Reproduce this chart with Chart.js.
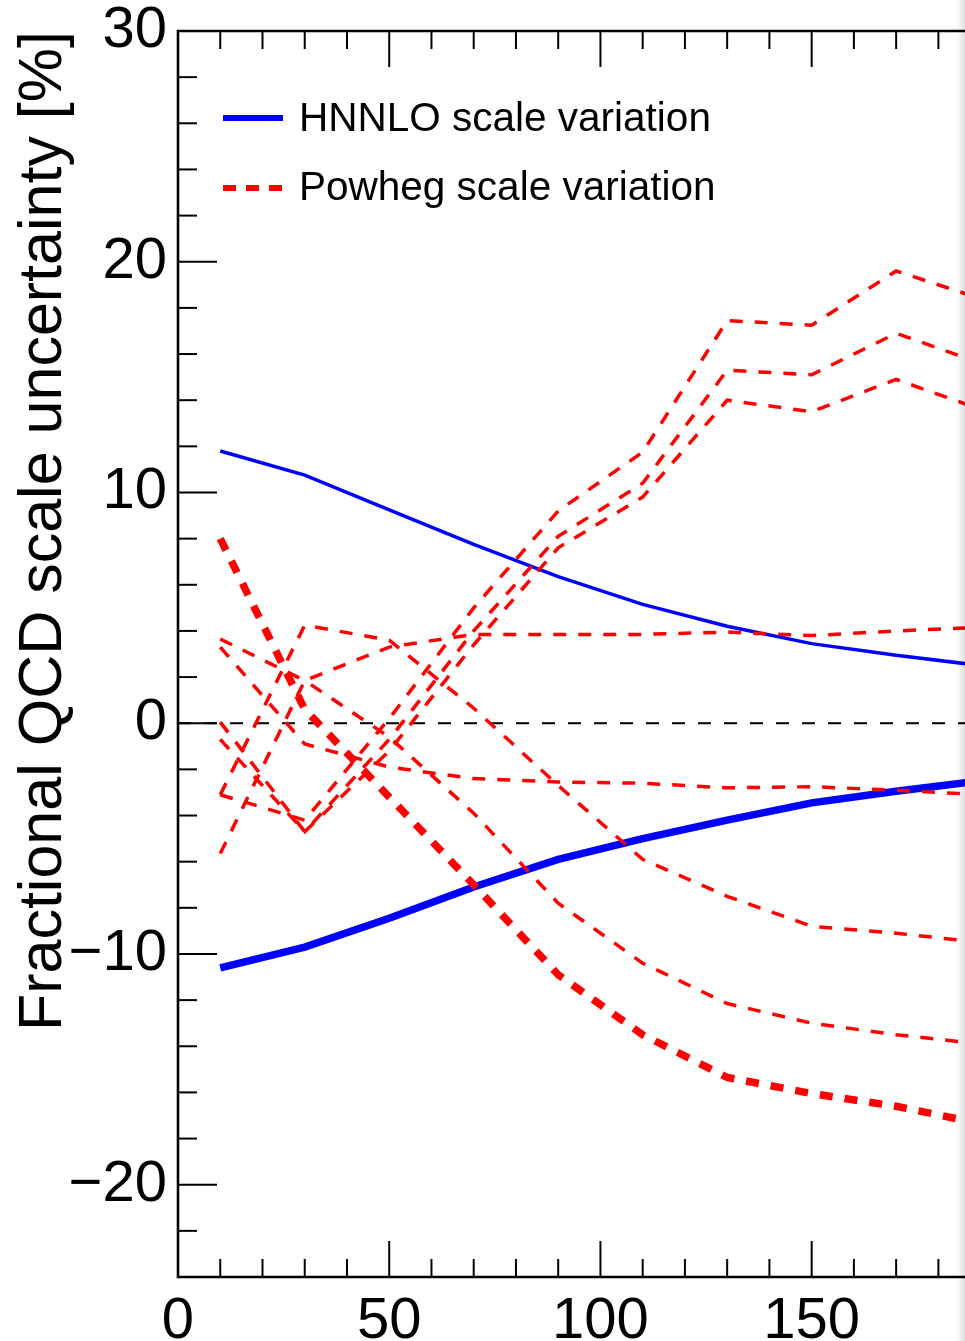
<!DOCTYPE html>
<html>
<head>
<meta charset="utf-8">
<title>Fractional QCD scale uncertainty</title>
<script src="https://cdn.jsdelivr.net/npm/chart.js@4.4.1/dist/chart.umd.min.js"></script>
<style>
    html, body { margin: 0; padding: 0; background: #fff; overflow: hidden; }
    #wrap { position: relative; width: 965px; height: 1341px; }
    #edge {
        position: absolute; top: 0; right: 0; width: 8px; height: 100%;
        background: linear-gradient(to right, rgba(0,0,0,0), rgba(0,0,0,0.13));
        pointer-events: none;
    }
</style>
</head>
<body>
<div id="wrap">
    <canvas id="uncChart"></canvas>
    <div id="edge"></div>
</div>
<script>
const FONT = '"Liberation Sans", Arial, Helvetica, sans-serif';

// bin centres (x axis)
const ptBins = [10, 30, 50, 70, 90, 110, 130, 150, 170, 190];

// HNNLO up / down variation [%]
const hnnloUp = [11.8, 10.75, 9.25, 7.75, 6.35, 5.15, 4.2, 3.45, 2.95, 2.5];
const hnnloDown = [-10.6, -9.7, -8.45, -7.1, -5.9, -5.0, -4.2, -3.45, -2.95, -2.5];

// Powheg variations [%], the thick one first
const powhegThick = [8.0, 0.6, -3.2, -7.0, -10.9, -13.5, -15.35, -16.05, -16.6, -17.35];
const powheg1 = [-3.1, -4.2, 0.2, 5.0, 9.2, 11.75, 17.45, 17.25, 19.6, 18.4];
const powheg2 = [0.05, -4.7, -0.7, 4.0, 8.1, 10.4, 15.3, 15.1, 16.9, 15.6];
const powheg3 = [-0.7, -4.7, -1.2, 3.4, 7.6, 9.8, 14.0, 13.5, 14.9, 13.6];
const powheg4 = [3.65, 1.85, 3.3, 3.85, 3.85, 3.85, 3.95, 3.8, 4.0, 4.15];
const powheg5 = [-5.65, 1.85, -0.6, -3.9, -7.8, -10.4, -12.15, -13.0, -13.5, -13.9];
const powheg6 = [-3.1, 4.25, 3.6, 0.65, -2.7, -5.9, -7.5, -8.8, -9.1, -9.5];
const powheg7 = [3.3, -0.9, -1.9, -2.4, -2.55, -2.6, -2.8, -2.75, -2.9, -3.1];
const powhegThin = [powheg1, powheg2, powheg3, powheg4, powheg5, powheg6, powheg7];

const legendLabels = ['HNNLO scale variation', 'Powheg scale variation'];
const yTitle = 'Fractional QCD scale uncertainty [%]';

// axis ranges and tick steps
const xRange = [0, 186.3];
const yRange = [-24, 30];
const xMajor = 50, xMinor = 10;
const yMajor = 10, yMinor = 2;

function toPoints(values) {
    return values.map((v, i) => ({ x: ptBins[i], y: v }));
}

function minusLabel(v) {
    return v < 0 ? '\u2212' + Math.abs(v) : String(v);
}

function strokeLine(ctx, x1, y1, x2, y2) {
    ctx.beginPath();
    ctx.moveTo(x1, y1);
    ctx.lineTo(x2, y2);
    ctx.stroke();
}

// ROOT-like frame: zero line, inward ticks, legend
const rootFrame = {
    id: 'rootFrame',
    beforeDatasetsDraw(chart) {
        const { ctx, chartArea: a, scales: { y } } = chart;
        const y0 = y.getPixelForValue(0);
        ctx.save();
        ctx.strokeStyle = '#000';
        ctx.lineWidth = 2;
        ctx.setLineDash([13, 13]);
        strokeLine(ctx, a.left, y0, a.right, y0);
        ctx.restore();
    },
    afterDraw(chart) {
        const { ctx, chartArea: a, scales: { x, y } } = chart;
        ctx.save();
        ctx.strokeStyle = '#000';
        ctx.lineWidth = 2;
        for (let v = xRange[0]; v <= xRange[1]; v += xMinor) {
            const px = x.getPixelForValue(v);
            const len = v % xMajor === 0 ? 36 : 18;
            strokeLine(ctx, px, a.bottom, px, a.bottom - len);
            strokeLine(ctx, px, a.top, px, a.top + len);
        }
        for (let v = yRange[0]; v <= yRange[1]; v += yMinor) {
            const py = y.getPixelForValue(v);
            const len = v % yMajor === 0 ? 39 : 19;
            strokeLine(ctx, a.left, py, a.left + len, py);
        }
        ctx.lineWidth = 2.6;
        ctx.beginPath();
        ctx.moveTo(a.right + 2, a.top);
        ctx.lineTo(a.left, a.top);
        ctx.lineTo(a.left, a.bottom);
        ctx.lineTo(a.right + 2, a.bottom);
        ctx.stroke();

        // legend
        const lx = a.left + 45;
        const ly = [a.top + 87, a.top + 157];
        ctx.lineWidth = 6;
        ctx.strokeStyle = '#0000ff';
        strokeLine(ctx, lx, ly[0], lx + 60, ly[0]);
        ctx.strokeStyle = '#ff0000';
        ctx.setLineDash([13, 10]);
        strokeLine(ctx, lx, ly[1], lx + 60, ly[1]);
        ctx.setLineDash([]);
        ctx.fillStyle = '#000';
        ctx.font = '40.5px ' + FONT;
        ctx.textBaseline = 'middle';
        ctx.textAlign = 'left';
        ctx.fillText(legendLabels[0], lx + 76, ly[0] + 2);
        ctx.fillText(legendLabels[1], lx + 76, ly[1] + 1);
        ctx.restore();
    }
};

function fixSize(scale, prop, size) {
    scale[prop] = size;
    scale.paddingTop = 0;
    scale.paddingBottom = 0;
    scale.paddingLeft = 0;
    scale.paddingRight = 0;
}

function renderUncertaintyChart() {
    const ctx = document.getElementById('uncChart').getContext('2d');

    const redThin = powhegThin.map((vals, i) => ({
        label: 'Powheg variation ' + (i + 1),
        data: toPoints(vals),
        borderColor: '#ff0000',
        borderWidth: 3.5,
        borderDash: [13, 12]
    }));

    const datasets = [
        {
            label: 'Powheg envelope',
            data: toPoints(powhegThick),
            borderColor: '#ff0000',
            borderWidth: 7.5,
            borderDash: [13, 12]
        },
        ...redThin,
        {
            label: 'HNNLO up',
            data: toPoints(hnnloUp),
            borderColor: '#0000ff',
            borderWidth: 3.5
        },
        {
            label: 'HNNLO down',
            data: toPoints(hnnloDown),
            borderColor: '#0000ff',
            borderWidth: 7.5
        }
    ];
    datasets.forEach(d => {
        d.pointRadius = 0;
        d.tension = 0;
        d.fill = false;
        d.borderJoinStyle = 'miter';
        d.borderCapStyle = 'butt';
    });

    new Chart(ctx, {
        type: 'line',
        data: { datasets },
        options: {
            responsive: true,
            maintainAspectRatio: false,
            animation: false,
            events: [],
            layout: { padding: { top: 31, left: 0, right: 0, bottom: 0 } },
            plugins: {
                legend: { display: false },
                tooltip: { enabled: false },
                title: { display: false }
            },
            scales: {
                x: {
                    type: 'linear',
                    min: xRange[0],
                    max: xRange[1],
                    grid: { display: false },
                    border: { display: false },
                    ticks: {
                        stepSize: xMajor,
                        includeBounds: false,
                        autoSkip: false,
                        maxRotation: 0,
                        padding: 2,
                        color: '#000',
                        font: { family: FONT, size: 58 },
                        callback: minusLabel
                    },
                    afterFit: s => fixSize(s, 'height', 64)
                },
                y: {
                    type: 'linear',
                    min: yRange[0],
                    max: yRange[1],
                    grid: { display: false },
                    border: { display: false },
                    ticks: {
                        stepSize: yMajor,
                        includeBounds: false,
                        autoSkip: false,
                        padding: 3,
                        color: '#000',
                        font: { family: FONT, size: 58 },
                        callback: minusLabel
                    },
                    title: {
                        display: true,
                        text: yTitle,
                        align: 'end',
                        color: '#000',
                        font: { family: FONT, size: 61 },
                        padding: { top: 8, bottom: 0 }
                    },
                    afterFit: s => fixSize(s, 'width', 178)
                }
            }
        },
        plugins: [rootFrame]
    });
}

renderUncertaintyChart();
</script>
</body>
</html>
